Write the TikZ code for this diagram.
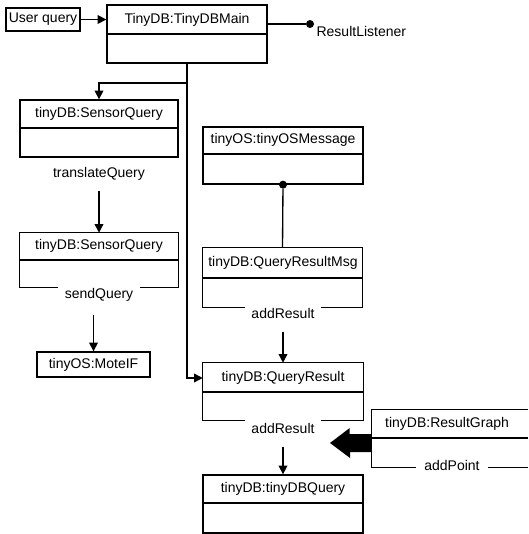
\documentclass[tikz,border=0pt]{standalone}
\usepackage{fontspec}
\setmainfont{Liberation Sans}
\usetikzlibrary{arrows.meta,fit,calc}
\begin{document}
\begin{tikzpicture}[x=0.75pt,y=-0.75pt,
  box/.style={draw, line width=1pt, inner sep=0pt},
  frame/.style={inner sep=0pt},
  lbl/.style={font=\fontsize{10.5}{12}\selectfont, inner sep=1pt},
  gaplbl/.style={font=\fontsize{10.5}{12}\selectfont, inner xsep=5pt, inner ysep=1pt},
  ln/.style={line width=1pt},
  arr/.style={line width=1pt, -{Triangle[length=6.5pt,width=6.5pt]}},
  dotnode/.style={circle, fill=black, inner sep=0pt, minimum size=6pt}]
\useasboundingbox (0,0) rectangle (528,534);

% User query
\node[box, fit={(6,8)(80,31)}] (uq) {};
\node[lbl] (uqt) at (uq.center) {User query};

% TinyDBMain
\node[box, fit={(107,5)(267,63)}] (main) {};
\draw[ln] (107,34) -- (267,34);
\node[lbl] (maint) at (187,20) {TinyDB:TinyDBMain};
\draw[arr] (uq.east |- uqt) -- (main.west |- uqt);

% ResultListener
\node[dotnode] (dot1) at (310,24) {};
\draw[ln] (main.east |- dot1) -- (dot1);
\node[lbl, anchor=west] (rl) at (315,32) {ResultListener};

% SensorQuery 1
\node[box, fit={(20,100)(178,157)}] (sq1) {};
\draw[ln] (20,128) -- (178,128);
\node[lbl] (sq1t) at (99,114) {tinyDB:SensorQuery};
\node[lbl] (tq) at (99,174) {translateQuery};

% SensorQuery 2
\node[frame, fit={(20,233)(178,287)}] (sq2) {};
\draw[ln] (20,260) -- (178,260);
\node[lbl] (sq2t) at (99,246) {tinyDB:SensorQuery};
\node[gaplbl] (sdq) at (99,295) {sendQuery};
\draw[ln] (sdq.west |- sq2.south) -- (sq2.south west) -- (sq2.north west)
  -- (sq2.north east) -- (sq2.south east) -- (sdq.east |- sq2.south);
\draw[arr] ([yshift=-7pt]tq.south) -- (sq2.north);

% MoteIF
\node[box, fit={(37,352)(150,377)}] (mote) {};
\node[lbl] (motet) at (mote.center) {tinyOS:MoteIF};
\draw[arr] ($(mote.north)+(0,-36)$) -- (mote.north);

% tinyOSMessage
\node[box, fit={(203,127)(363,184)}] (om) {};
\draw[ln] (203,154) -- (363,154);
\node[lbl] (omt) at (283,140) {tinyOS:tinyOSMessage};
\node[dotnode] (dot2) at (om.south) {};

% QueryResultMsg
\node[frame, fit={(203,248)(362,307)}] (qrm) {};
\draw[ln] (203,278) -- (362,278);
\node[lbl] (qrmt) at (283,263) {tinyDB:QueryResultMsg};
\node[gaplbl] (ar1) at (283,313) {addResult};
\draw[ln] (ar1.west |- qrm.south) -- (qrm.south west) -- (qrm.north west)
  -- (qrm.north east) -- (qrm.south east) -- (ar1.east |- qrm.south);
\draw[ln] (dot2) -- (qrm.north);

% QueryResult
\node[frame, fit={(203,363)(363,420)}] (qr) {};
\draw[ln] (203,392) -- (363,392);
\node[lbl] (qrt) at (283,378) {tinyDB:QueryResult};
\node[gaplbl] (ar2) at (283,428) {addResult};
\draw[ln] (ar2.west |- qr.south) -- (qr.south west) -- (qr.north west)
  -- (qr.north east) -- (qr.south east) -- (ar2.east |- qr.south);
\draw[arr] ([yshift=-9pt]ar1.south) -- (qr.north);

% tinyDBQuery
\node[box, fit={(203,475)(363,533)}] (tq2) {};
\draw[ln] (203,503) -- (363,503);
\node[lbl] (tq2t) at (283,489) {tinyDB:tinyDBQuery};
\draw[arr] ([yshift=-9pt]ar2.south) -- (tq2.north);

% Main connectors
\coordinate (j1) at (main.south |- 0,83);
\draw[arr] (main.south) |- (qr.west |- qrt);
\draw[arr] (j1) -| (sq1.north);

% ResultGraph (open on the right)
\node[frame, fit={(372,410)(528,467)}] (rg) {};
\draw[ln] (372,438) -- (528,438);
\node[lbl] (rgt) at (447,424) {tinyDB:ResultGraph};
\node[gaplbl, inner xsep=6pt] (ap) at (452,465) {addPoint};
\draw[ln] (ap.west |- rg.south) -- (rg.south west) -- (rg.north west) -- (rg.north east);
\draw[ln] (ap.east |- rg.south) -- (rg.south east);

% Thick arrow
\coordinate (tip) at (330,443);
\fill (rg.west |- tip) ++(0,-9) -- ++(-22,0) -- ++(0,-6) -- (tip) -- ++(20,15) -- ++(0,-6) -- ++(22,0) -- cycle;
\end{tikzpicture}
\end{document}
